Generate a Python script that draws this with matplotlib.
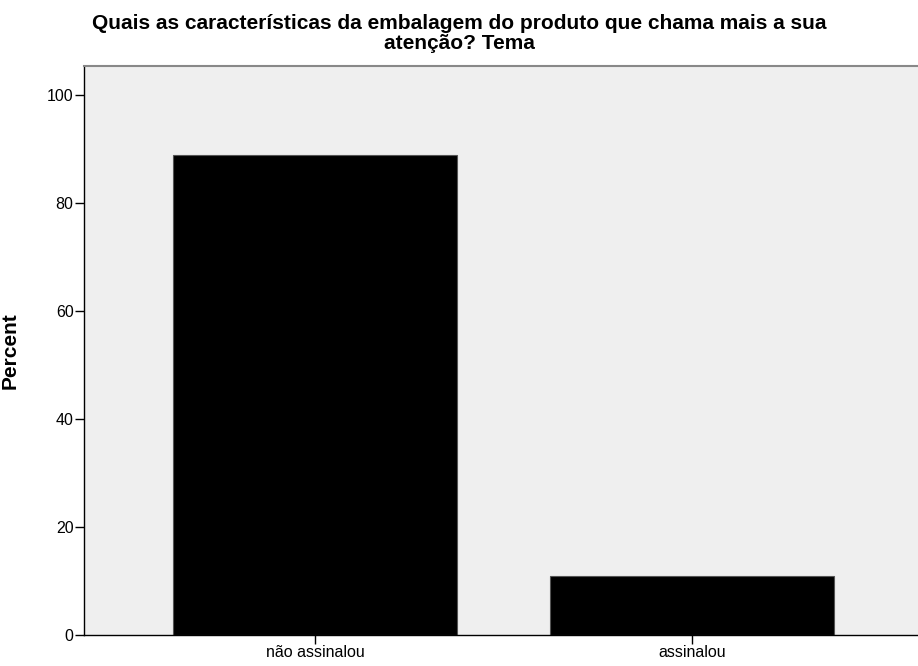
import matplotlib
matplotlib.use("Agg")
import matplotlib.pyplot as plt

categories = ["não assinalou", "assinalou"]
percent = [89.0, 11.0]
yticks = [0, 20, 40, 60, 80, 100]
title_lines = ["Quais as características da embalagem do produto que chama mais a sua",
               "atenção? Tema"]

plt.rcParams['font.family'] = ['Liberation Sans', 'DejaVu Sans']

fig = plt.figure(figsize=(9.18, 6.66), dpi=100)
ax = fig.add_axes([84 / 918, 31 / 666, 1 - 84 / 918, (635 - 66) / 666])
ax.set_facecolor('#efefef')

x = list(range(len(categories)))
ax.bar(x, percent, width=0.753, color='black', edgecolor='#555555', linewidth=0.8, zorder=2)

ax.set_xlim(-0.613, 1.600)
ax.set_ylim(0, 105.4)
ax.set_xticks(x)
ax.set_xticklabels(categories, fontsize=11.5)
ax.set_yticks(yticks)
ax.set_yticklabels([str(t) for t in yticks], fontsize=11.5)
ax.tick_params(axis='both', direction='out', length=6.5, width=1, color='black', pad=1)

for side in ['left', 'bottom']:
    ax.spines[side].set_color('black')
    ax.spines[side].set_linewidth(1)
ax.spines['top'].set_color('#888888')
ax.spines['top'].set_linewidth(1.5)
ax.spines['right'].set_visible(False)

ax.set_ylabel('Percent', fontsize=15, fontweight='bold')
ax.yaxis.set_label_coords((20 - 84) / 834, 0.5)

# two-line title, each line placed on its own baseline
for line, base_px in zip(title_lines, [29, 49]):
    fig.text(459 / 918, 1 - base_px / 666, line,
             ha='center', va='baseline', fontsize=15, fontweight='bold')

fig.savefig('out.png', dpi=100)
